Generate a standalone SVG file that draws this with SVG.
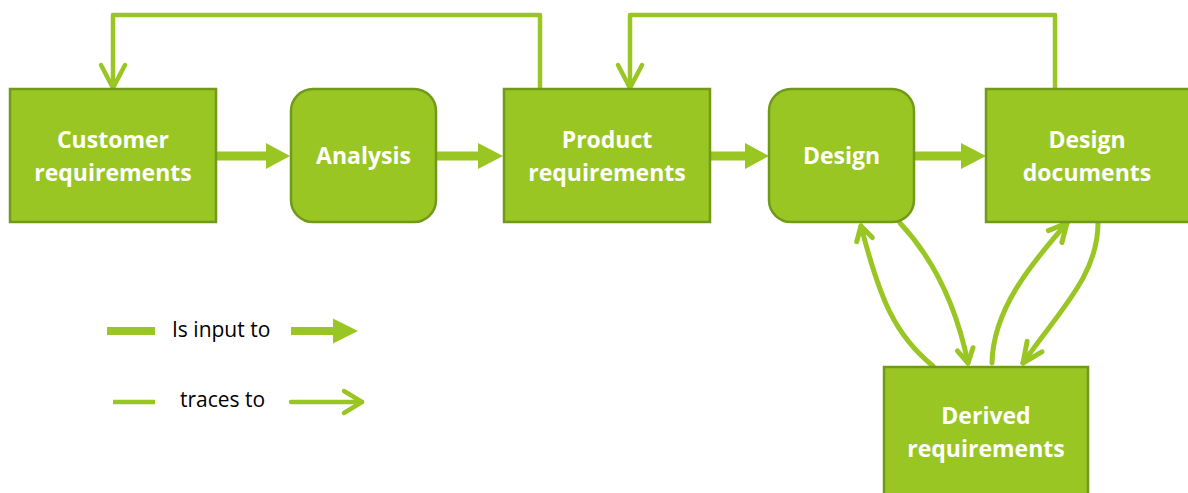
<svg xmlns="http://www.w3.org/2000/svg" width="1188" height="493" viewBox="0 0 1188 493">
<style>
.box{fill:#9ac623;stroke:#719a1b;stroke-width:2.5}
.lbl{font-family:"Open Sans","Liberation Sans",sans-serif;font-weight:bold;font-size:23px;fill:#fff;text-anchor:middle}
.leg{font-family:"Open Sans","Liberation Sans",sans-serif;font-size:21px;fill:#000}
.thick{fill:#9ac623}
.thin{fill:none;stroke:#9ac623;stroke-width:4.5;stroke-linecap:round;stroke-linejoin:round}
.curve{fill:none;stroke:#9ac623;stroke-width:5;stroke-linecap:round;stroke-linejoin:round}
</style>
<rect width="1188" height="493" fill="#fff"/>
<g id="connectors">
  <path class="thin" d="M540,89 V15 H113 V88"/>
  <path class="thin" d="M101,65 L113,88 L125,65"/>
  <path class="thin" d="M1055,89 V15 H630 V88"/>
  <path class="thin" d="M618,65 L630,88 L642,65"/>
  <path class="thick" d="M216,151.5 H266 V143 L290,156 L266,169 V160.5 H216 Z"/>
  <path class="thick" d="M437,151.5 H478 V143 L503,156 L478,169 V160.5 H437 Z"/>
  <path class="thick" d="M711,151.5 H745 V143 L769,156 L745,169 V160.5 H711 Z"/>
  <path class="thick" d="M915,151.5 H961 V143 L986,156 L961,169 V160.5 H915 Z"/>
  <path class="curve" d="M933,366 C895,335 880,300 861,226"/>
  <path class="curve" d="M856.7,241.6 L861,226 L872.3,237.6"/>
  <path class="curve" d="M900,223 C930,255 955,300 968,363"/>
  <path class="curve" d="M957.4,350.9 L968,363 L973,347.7"/>
  <path class="curve" d="M992,363 C993,310 1030,265 1067,223"/>
  <path class="curve" d="M1048.4,230.6 L1067,223 L1061.9,242.5"/>
  <path class="curve" d="M1098,223 C1098,275 1060,310 1023,363"/>
  <path class="curve" d="M1027.1,341.4 L1023,363 L1041.9,351.8"/>
</g>
<g id="customer-requirements">
  <rect class="box" x="10" y="89" width="206" height="133"/>
  <text class="lbl" x="113" y="148">Customer</text>
  <text class="lbl" x="113" y="181">requirements</text>
</g>
<g id="analysis">
  <rect class="box" x="291" y="89" width="145" height="133" rx="22"/>
  <text class="lbl" x="363.5" y="164">Analysis</text>
</g>
<g id="product-requirements">
  <rect class="box" x="504" y="89" width="206" height="133"/>
  <text class="lbl" x="607" y="148">Product</text>
  <text class="lbl" x="607" y="181">requirements</text>
</g>
<g id="design">
  <rect class="box" x="769" y="89" width="145" height="133" rx="22"/>
  <text class="lbl" x="841.5" y="164">Design</text>
</g>
<g id="design-documents">
  <rect class="box" x="986" y="89" width="204" height="133"/>
  <text class="lbl" x="1087" y="148">Design</text>
  <text class="lbl" x="1087" y="181">documents</text>
</g>
<g id="derived-requirements">
  <rect class="box" x="884" y="367" width="204" height="130"/>
  <text class="lbl" x="986" y="424">Derived</text>
  <text class="lbl" x="986" y="457">requirements</text>
</g>
<g id="legend">
  <rect class="thick" x="107" y="327" width="48" height="8"/>
  <text class="leg" x="172" y="337">Is input to</text>
  <path class="thick" d="M291,327 H333 V318.5 L358,331 L333,343.5 V335 H291 Z"/>
  <line x1="113" y1="402" x2="155" y2="402" stroke="#9ac623" stroke-width="4.5"/>
  <text class="leg" x="180" y="407">traces to</text>
  <path class="thin" d="M291,402 H362"/>
  <path class="thin" d="M344,391 L362,402 L344,413"/>
</g>
</svg>
